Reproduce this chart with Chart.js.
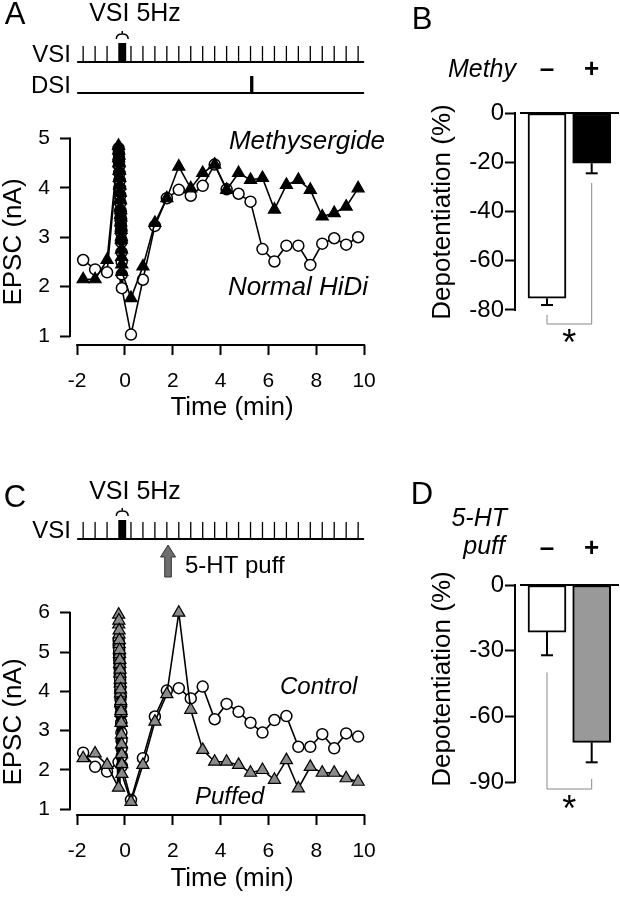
<!DOCTYPE html>
<html>
<head>
<meta charset="utf-8">
<script src="https://cdn.jsdelivr.net/npm/chart.js@4.4.1/dist/chart.umd.min.js"></script>
<style>
  html, body { margin: 0; padding: 0; background: #fff; }
  #page { position: relative; width: 620px; height: 899px; overflow: hidden; }
  canvas { position: absolute; }
</style>
</head>
<body>
<div id="page">
  <canvas id="chartA" width="390" height="430" style="left:0;top:0"></canvas>
  <canvas id="chartB" width="230" height="430" style="left:390px;top:0"></canvas>
  <canvas id="chartC" width="390" height="469" style="left:0;top:430px"></canvas>
  <canvas id="chartD" width="230" height="469" style="left:390px;top:430px"></canvas>
</div>
<script>
const FONT = '"Liberation Sans", Arial, Helvetica, sans-serif';
Chart.defaults.font.family = FONT;
Chart.defaults.color = '#000';

// sample times (min)
const baseTime = [-1.75, -1.25, -0.75];
const trainTime = [-0.270, -0.265, -0.260, -0.255, -0.250, -0.245, -0.240, -0.235, -0.230, -0.225,
  -0.220, -0.215, -0.210, -0.205, -0.200, -0.195, -0.190, -0.185, -0.180, -0.175,
  -0.170, -0.165, -0.160, -0.155, -0.150, -0.145, -0.140, -0.135, -0.130];
const postTime = [0.25, 0.75, 1.25, 1.75, 2.25, 2.75, 3.25, 3.75, 4.25, 4.75, 5.25, 5.75, 6.25, 6.75, 7.25, 7.75, 8.25, 8.75, 9.25, 9.75];

// panel A, EPSC (nA)
const normalBase = [2.54, 2.35, 2.29];
const normalTrain = [4.8, 4.55, 4.7, 4.45, 4.6, 4.3, 4.45, 4.15, 4.3, 4.0, 4.15, 3.85, 4.0, 3.7, 3.85,
  3.55, 3.7, 3.4, 3.5, 3.25, 3.35, 3.1, 3.15, 2.9, 2.95, 2.7, 2.5, 2.25, 1.97];
const normalPost = [1.03, 2.14, 3.23, 3.79, 3.96, 3.84, 4.04, 4.47, 3.97, 3.88, 3.72, 2.76, 2.51, 2.83, 2.83, 2.44, 2.87, 2.98, 2.85, 3.0];
const methyBase = [2.15, 2.15, 2.54];
const methyTrain = [4.85, 4.6, 4.75, 4.5, 4.65, 4.35, 4.5, 4.2, 4.35, 4.05, 4.2, 3.9, 4.05, 3.75, 3.9,
  3.6, 3.75, 3.45, 3.55, 3.3, 3.4, 3.15, 3.2, 2.95, 3.0, 2.75, 2.6, 2.45, 2.3];
const methyPost = [1.77, 2.41, 3.29, 3.79, 4.43, 3.99, 4.30, 4.47, 3.96, 4.30, 4.16, 4.2, 3.56, 4.06, 4.16, 3.96, 3.42, 3.49, 3.62, 3.99];

// panel C, EPSC (nA)
const controlBase = [2.44, 2.08, 1.96];
const controlTrain = [2.2, 5.3, 5.15, 5.2, 4.95, 5.05, 4.8, 4.9, 4.6, 4.7, 4.4, 4.5, 4.2, 4.3, 4.0,
  4.1, 3.8, 3.9, 3.6, 3.65, 3.4, 3.45, 3.2, 3.2, 2.95, 2.75, 2.55, 2.35, 2.1];
const controlPost = [1.24, 2.30, 3.36, 4.02, 4.08, 3.82, 4.12, 3.29, 3.68, 3.48, 3.20, 2.95, 3.27, 3.37, 2.59, 2.59, 2.91, 2.55, 2.93, 2.85];
const puffedBase = [2.30, 2.42, 2.13];
const puffedTrain = [1.55, 5.95, 5.7, 5.8, 5.45, 5.55, 5.2, 5.3, 4.95, 5.05, 4.7, 4.8, 4.45, 4.55, 4.2,
  4.3, 3.95, 4.05, 3.7, 3.75, 3.45, 3.5, 3.2, 3.2, 2.9, 2.65, 2.4, 2.15, 1.9];
const puffedPost = [1.19, 2.13, 3.23, 3.93, 6.0, 3.53, 2.51, 2.21, 2.21, 2.13, 1.93, 2.0, 1.75, 2.25, 1.53, 2.08, 1.93, 1.93, 1.79, 1.70];

const timeTicks = [-2, 0, 2, 4, 6, 8, 10];
const epscTicksA = [1, 2, 3, 4, 5];
const epscTicksC = [1, 2, 3, 4, 5, 6];

// stimulation protocol
const vsiTimes = baseTime.concat(postTime);
const vsiTrain = [-0.28, 0.05];
const dsiTime = 5.3;
const puffTime = 1.8;

// panels B and D, depotentiation (%)
const drugLabels = ['\u2013', '+'];
const methyMean = [-75.2, -20.4];
const methySem = [2.8, 4.1];
const puffMean = [-21.5, -71.9];
const puffSem = [10.6, 9.1];
const depotTicksB = [0, -20, -40, -60, -80];
const depotTicksD = [0, -30, -60, -90];

const pts = (t, v) => t.map((x, i) => ({ x, y: v[i] }));

function txt(ctx, s, x, y, o = {}) {
  ctx.save();
  ctx.translate(x, y);
  ctx.rotate(o.rot || 0);
  ctx.font = `${o.style || ''} ${o.weight || ''} ${o.size || 26}px ${FONT}`;
  ctx.textAlign = o.align || 'center';
  ctx.textBaseline = 'middle';
  ctx.fillStyle = '#000';
  ctx.fillText(s, 0, 0);
  ctx.restore();
}

function line(ctx, x0, y0, x1, y1, w, color) {
  ctx.beginPath();
  ctx.moveTo(x0, y0);
  ctx.lineTo(x1, y1);
  ctx.lineWidth = w;
  ctx.strokeStyle = color || '#000';
  ctx.stroke();
}

function brace(ctx, x0, x1, yb) {
  const xm = (x0 + x1) / 2, ym = yb - 5;
  ctx.beginPath();
  ctx.moveTo(x0, yb);
  ctx.quadraticCurveTo(x0, ym, xm, ym);
  ctx.quadraticCurveTo(x1, ym, x1, yb);
  ctx.moveTo(xm, ym);
  ctx.lineTo(xm, ym - 3);
  ctx.lineWidth = 1.5;
  ctx.strokeStyle = '#000';
  ctx.stroke();
}

// VSI row: baseline, single stimuli and the 5 Hz block
function vsiRow(ctx, x, yTick, yBase, yBlock) {
  line(ctx, x.getPixelForValue(-2), yBase, x.getPixelForValue(10), yBase, 2);
  vsiTimes.forEach(t => {
    const px = x.getPixelForValue(t);
    line(ctx, px, yTick, px, yBase, 1.3);
  });
  const b0 = x.getPixelForValue(vsiTrain[0]), b1 = x.getPixelForValue(vsiTrain[1]);
  ctx.fillStyle = '#000';
  ctx.fillRect(b0, yBlock, b1 - b0, yBase - yBlock);
  brace(ctx, b0 - 2, b1 + 2, yBlock - 4);
}

// axis lines only span the tick range
const axisLines = (xTicks, yTicks) => ({
  id: 'axisLines',
  afterDraw(chart) {
    const { ctx, chartArea: a, scales: { x, y } } = chart;
    ctx.save();
    ctx.lineCap = 'square';
    line(ctx, a.left, y.getPixelForValue(yTicks[0]), a.left, y.getPixelForValue(yTicks[yTicks.length - 1]), 2);
    if (xTicks) {
      line(ctx, x.getPixelForValue(xTicks[0]), a.bottom, x.getPixelForValue(xTicks[xTicks.length - 1]), a.bottom, 2);
    } else {
      ctx.lineCap = 'butt';
      line(ctx, a.left + 5, y.getPixelForValue(0), a.right, y.getPixelForValue(0), 2);
    }
    ctx.restore();
  }
});

function timeCourse(id, o) {
  return new Chart(document.getElementById(id), {
    type: 'line',
    data: { datasets: o.datasets },
    options: {
      responsive: false, animation: false, devicePixelRatio: 1,
      layout: { padding: { left: 0, top: o.top, right: 10, bottom: 0 } },
      plugins: { legend: { display: false }, tooltip: { enabled: false } },
      scales: {
        x: {
          type: 'linear', min: -2.3, max: 10.27,
          afterBuildTicks: s => { s.ticks = timeTicks.map(v => ({ value: v })); },
          afterFit: s => { s.height = o.xHeight; },
          border: { display: false },
          grid: { drawOnChartArea: false, tickLength: 10, tickWidth: 2, tickColor: '#000' },
          ticks: { font: { size: 21 }, padding: 14, autoSkip: false, maxRotation: 0 }
        },
        y: {
          type: 'linear', min: o.yMin, max: o.yMax,
          afterBuildTicks: s => { s.ticks = o.yTicks.map(v => ({ value: v })); },
          afterFit: s => { s.width = 70; },
          border: { display: false },
          grid: { drawOnChartArea: false, tickLength: 10, tickWidth: 2, tickColor: '#000' },
          ticks: { font: { size: 21 }, padding: 10, autoSkip: false }
        }
      }
    },
    plugins: [axisLines(timeTicks, o.yTicks), o.extra]
  });
}

// segments inside the 5 Hz train are drawn heavier (dense overlapping sweeps)
const inTrain = c => c.p0.parsed.x >= trainTime[0] && c.p1.parsed.x <= trainTime[trainTime.length - 1];
const segStyle = { borderWidth: c => inTrain(c) ? 4 : 1.6 };

function circles(data) {
  return { data, borderColor: '#000', borderWidth: 1.6, segment: segStyle, pointStyle: 'circle', pointRadius: 5.5,
    pointBorderWidth: 1.5, pointBackgroundColor: '#fff', pointBorderColor: '#000', clip: false, order: 1 };
}
function triangles(data, fill) {
  return { data, borderColor: '#000', borderWidth: 1.6, segment: segStyle, pointStyle: 'triangle', pointRadius: 7,
    pointBorderWidth: 1.2, pointBackgroundColor: fill, pointBorderColor: '#000', clip: false, order: 0 };
}

// Panel A
timeCourse('chartA', {
  top: 130, xHeight: 85, yMin: 0.82, yMax: 5.17, yTicks: epscTicksA,
  datasets: [
    circles(pts(baseTime.concat(trainTime, postTime), normalBase.concat(normalTrain, normalPost))),
    triangles(pts(baseTime.concat(trainTime, postTime), methyBase.concat(methyTrain, methyPost)), '#000')
  ],
  extra: {
    id: 'extraA',
    afterDraw(chart) {
      const { ctx, scales: { x } } = chart;
      txt(ctx, 'A', 15, 15, { size: 31 });
      txt(ctx, 'VSI 5Hz', 135, 14, { size: 25 });
      txt(ctx, 'VSI', 71, 55, { size: 24, align: 'right' });
      txt(ctx, 'DSI', 71, 86, { size: 24, align: 'right' });
      vsiRow(ctx, x, 46, 62, 43);
      line(ctx, x.getPixelForValue(-2), 93, x.getPixelForValue(10), 93, 2);
      const d = x.getPixelForValue(dsiTime);
      line(ctx, d, 76, d, 93, 3.3);
      txt(ctx, 'Methysergide', 385, 142, { size: 26, style: 'italic', align: 'right' });
      txt(ctx, 'Normal HiDi', 368, 288, { size: 26, style: 'italic', align: 'right' });
      txt(ctx, 'EPSC (nA)', 14, 242, { size: 26, rot: -Math.PI / 2 });
      txt(ctx, 'Time (min)', 232, 408, { size: 26 });
    }
  }
});

// Panel C
timeCourse('chartC', {
  top: 165, xHeight: 84, yMin: 0.855, yMax: 6.45, yTicks: epscTicksC,
  datasets: [
    circles(pts(baseTime.concat(trainTime, postTime), controlBase.concat(controlTrain, controlPost))),
    triangles(pts(baseTime.concat(trainTime, postTime), puffedBase.concat(puffedTrain, puffedPost)), '#8a8a8a')
  ],
  extra: {
    id: 'extraC',
    afterDraw(chart) {
      const { ctx, scales: { x } } = chart;
      txt(ctx, 'C', 15, 68, { size: 31 });
      txt(ctx, 'VSI 5Hz', 135, 62, { size: 25 });
      txt(ctx, 'VSI', 71, 101, { size: 24, align: 'right' });
      vsiRow(ctx, x, 92, 109, 90);
      // 5-HT puff arrow
      const ax = x.getPixelForValue(puffTime), y0 = 115, y1 = 147;
      ctx.beginPath();
      ctx.moveTo(ax, y0);
      ctx.lineTo(ax + 7.5, y0 + 12);
      ctx.lineTo(ax + 3.3, y0 + 12);
      ctx.lineTo(ax + 3.3, y1);
      ctx.lineTo(ax - 3.3, y1);
      ctx.lineTo(ax - 3.3, y0 + 12);
      ctx.lineTo(ax - 7.5, y0 + 12);
      ctx.closePath();
      ctx.fillStyle = '#6e6e6e';
      ctx.fill();
      ctx.lineWidth = 1;
      ctx.strokeStyle = '#333';
      ctx.stroke();
      txt(ctx, '5-HT puff', 185, 136, { size: 24, align: 'left' });
      txt(ctx, 'Control', 280, 257, { size: 24, style: 'italic', align: 'left' });
      txt(ctx, 'Puffed', 195, 367, { size: 24, style: 'italic', align: 'left' });
      txt(ctx, 'EPSC (nA)', 14, 292, { size: 26, rot: -Math.PI / 2 });
      txt(ctx, 'Time (min)', 232, 449, { size: 26 });
    }
  }
});

// error bars (down only) and significance bracket
const barExtras = (mean, sem, br) => ({
  id: 'barExtras',
  afterDatasetsDraw(chart) {
    const { ctx, scales: { y } } = chart;
    const els = chart.getDatasetMeta(0).data;
    els.forEach((el, i) => {
      const yEnd = y.getPixelForValue(mean[i] - sem[i]);
      line(ctx, el.x, el.y, el.x, yEnd, 2);
      line(ctx, el.x - 6, yEnd, el.x + 6, yEnd, 2);
    });
    const x0 = els[0].x, x1 = els[1].x, yb = y.getPixelForValue(br.low);
    ctx.save();
    ctx.beginPath();
    ctx.moveTo(x0, y.getPixelForValue(br.left));
    ctx.lineTo(x0, yb);
    ctx.lineTo(x1, yb);
    ctx.lineTo(x1, y.getPixelForValue(br.right));
    ctx.lineWidth = 1;
    ctx.strokeStyle = '#888';
    ctx.stroke();
    ctx.restore();
    txt(ctx, '*', (x0 + x1) / 2, y.getPixelForValue(br.star) + 8, { size: 36 });
  }
});

function depotBars(id, o) {
  return new Chart(document.getElementById(id), {
    type: 'bar',
    data: {
      datasets: [{
        data: pts([0, 1], o.mean),
        backgroundColor: o.colors, borderColor: '#000', borderWidth: 2,
        borderSkipped: false, barThickness: 38
      }]
    },
    options: {
      responsive: false, animation: false, devicePixelRatio: 1,
      layout: { padding: { left: 0, top: 0, right: 1, bottom: o.bottom } },
      plugins: { legend: { display: false }, tooltip: { enabled: false } },
      scales: {
        x: {
          type: 'linear', position: 'top', min: -0.716, max: 1.611, offset: false,
          afterBuildTicks: s => { s.ticks = [0, 1].map(v => ({ value: v })); },
          afterFit: s => { s.height = o.top; },
          border: { display: false },
          grid: { display: false },
          ticks: { font: { size: 26, weight: 'bold' }, padding: o.labelPad, autoSkip: false,
            callback: v => drugLabels[v] }
        },
        y: {
          type: 'linear', min: o.yMin, max: 0,
          afterBuildTicks: s => { s.ticks = o.yTicks.map(v => ({ value: v })); },
          afterFit: s => { s.width = 125; },
          border: { display: false },
          grid: { drawOnChartArea: false, tickLength: 10, tickWidth: 2, tickColor: '#000' },
          ticks: { font: { size: 24 }, padding: 1, autoSkip: false }
        }
      }
    },
    plugins: [axisLines(null, o.yTicks), barExtras(o.mean, o.sem, o.bracket), o.extra]
  });
}

// Panel B
depotBars('chartB', {
  mean: methyMean, sem: methySem, colors: ['#fff', '#000'], yTicks: depotTicksB,
  top: 113, bottom: 90, yMin: -92.2, labelPad: 20,
  bracket: { left: -82, low: -85.7, right: -28.4, star: -91 },
  extra: {
    id: 'extraB',
    afterDraw(chart) {
      const { ctx } = chart;
      txt(ctx, 'B', 32, 20, { size: 31 });
      txt(ctx, 'Methy', 126, 70, { size: 25, style: 'italic', align: 'right' });
      txt(ctx, 'Depotentiation (%)', 53, 212, { size: 26, rot: -Math.PI / 2 });
    }
  }
});

// Panel D
depotBars('chartD', {
  mean: puffMean, sem: puffSem, colors: ['#fff', '#999'], yTicks: depotTicksD,
  top: 155, bottom: 79, yMin: -107.35, labelPad: 13,
  bracket: { left: -39.9, low: -93.2, right: -88.6, star: -99.5 },
  extra: {
    id: 'extraD',
    afterDraw(chart) {
      const { ctx } = chart;
      txt(ctx, 'D', 32, 65, { size: 31 });
      txt(ctx, '5-HT', 117, 89, { size: 25, style: 'italic', align: 'right' });
      txt(ctx, 'puff', 115, 117, { size: 25, style: 'italic', align: 'right' });
      txt(ctx, 'Depotentiation (%)', 53, 249, { size: 26, rot: -Math.PI / 2 });
    }
  }
});
</script>
</body>
</html>
